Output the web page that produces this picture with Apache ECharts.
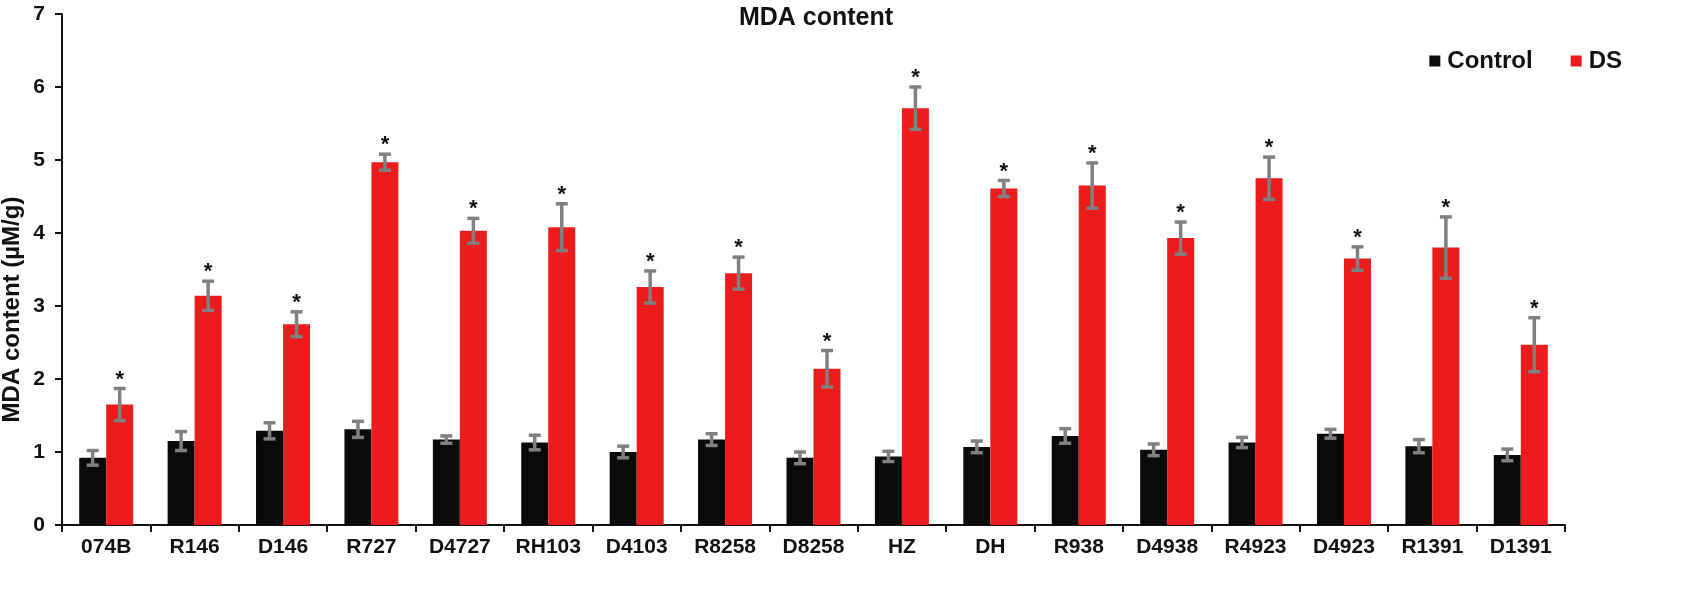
<!DOCTYPE html>
<html>
<head>
<meta charset="utf-8">
<script src="https://cdn.jsdelivr.net/npm/echarts@6/dist/echarts.min.js"></script>
<style>
  html, body { margin: 0; padding: 0; background: #fff; }
  #chart { width: 1700px; height: 609px; }
</style>
</head>
<body>
<div id="chart"></div>
<script>
// genotypes
const categories = ['074B', 'R146', 'D146', 'R727', 'D4727', 'RH103', 'D4103', 'R8258', 'D8258',
  'HZ', 'DH', 'R938', 'D4938', 'R4923', 'D4923', 'R1391', 'D1391'];

// MDA content, control
const controlValues = [0.92, 1.15, 1.29, 1.31, 1.17, 1.13, 1.00, 1.17, 0.92, 0.94, 1.07, 1.22, 1.03, 1.13, 1.25, 1.08, 0.96];
const controlErrors = [0.10, 0.13, 0.11, 0.11, 0.05, 0.10, 0.08, 0.08, 0.08, 0.07, 0.08, 0.10, 0.08, 0.07, 0.06, 0.09, 0.08];

// MDA content, drought stress
const dsValues = [1.65, 3.14, 2.75, 4.97, 4.03, 4.08, 3.26, 3.45, 2.14, 5.71, 4.61, 4.65, 3.93, 4.75, 3.65, 3.80, 2.47];
const dsErrors = [0.22, 0.20, 0.17, 0.11, 0.17, 0.32, 0.22, 0.22, 0.25, 0.29, 0.11, 0.31, 0.22, 0.29, 0.16, 0.42, 0.37];

const FONT = '"Liberation Sans", Arial, sans-serif';
const BAR_W = 27;

// 误差线
function errorSeries(name, values, errors, offset, star) {
  return {
    type: 'custom',
    name: name + '-err',
    z: 10,
    data: values.map((v, i) => [i, v, errors[i]]),
    renderItem: function (params, api) {
      const idx = api.value(0);
      const v = api.value(1);
      const e = api.value(2);
      const hi = api.coord([idx, v + e]);
      const lo = api.coord([idx, v - e]);
      const x = hi[0] + offset;
      const cap = 6;
      const style = { stroke: '#808080', lineWidth: 3.5 };
      const children = [
        { type: 'line', shape: { x1: x, y1: hi[1], x2: x, y2: lo[1] }, style: style },
        { type: 'line', shape: { x1: x - cap, y1: hi[1], x2: x + cap, y2: hi[1] }, style: style },
        { type: 'line', shape: { x1: x - cap, y1: lo[1], x2: x + cap, y2: lo[1] }, style: style }
      ];
      if (star) {
        children.push({
          type: 'text',
          style: {
            text: '*', x: x, y: hi[1] + 2,
            align: 'center', verticalAlign: 'bottom',
            font: 'bold 22px ' + FONT, fill: '#111'
          }
        });
      }
      return { type: 'group', children: children };
    }
  };
}

const chart = echarts.init(document.getElementById('chart'));
chart.setOption({
  animation: false,
  textStyle: { fontFamily: FONT },
  title: {
    text: 'MDA content',
    left: 811,
    top: 1,
    textAlign: 'center',
    textStyle: { fontSize: 25, fontWeight: 'bold', color: '#111', fontFamily: FONT }
  },
  legend: {
    data: ['Control', 'DS'],
    right: 73,
    top: 44,
    itemWidth: 11,
    itemHeight: 11,
    itemGap: 38,
    icon: 'rect',
    textStyle: { fontSize: 24, fontWeight: 'bold', color: '#111', fontFamily: FONT, padding: [0, 0, 0, 2] }
  },
  grid: { left: 62, right: 135, top: 14, bottom: 84, containLabel: false, outerBoundsMode: 'none' },
  xAxis: {
    type: 'category',
    data: categories,
    axisLine: { lineStyle: { color: '#111', width: 2 } },
    axisTick: { show: true, length: 7, lineStyle: { color: '#111', width: 2 } },
    axisLabel: { fontSize: 21, fontWeight: 'bold', color: '#111', margin: 12, interval: 0, fontFamily: FONT }
  },
  yAxis: {
    type: 'value',
    min: 0,
    max: 7,
    interval: 1,
    name: 'MDA content (µM/g)',
    nameLocation: 'middle',
    nameGap: 38,
    nameMoveOverlap: false,
    nameTextStyle: { fontSize: 24, fontWeight: 'bold', color: '#111', fontFamily: FONT, padding: [0, 80, 0, 0] },
    axisLine: { show: true, lineStyle: { color: '#111', width: 2 } },
    axisTick: { show: true, length: 7, lineStyle: { color: '#111', width: 2 } },
    axisLabel: { fontSize: 21, fontWeight: 'bold', color: '#111', margin: 17, fontFamily: FONT },
    splitLine: { show: false }
  },
  series: [
    {
      name: 'Control',
      type: 'bar',
      data: controlValues,
      barWidth: BAR_W,
      barGap: '0%',
      itemStyle: { color: '#0a0a0a' }
    },
    {
      name: 'DS',
      type: 'bar',
      data: dsValues,
      barWidth: BAR_W,
      barGap: '0%',
      itemStyle: { color: '#ec1c1c' }
    },
    errorSeries('Control', controlValues, controlErrors, -BAR_W / 2, false),
    errorSeries('DS', dsValues, dsErrors, BAR_W / 2, true)
  ]
});
</script>
</body>
</html>
